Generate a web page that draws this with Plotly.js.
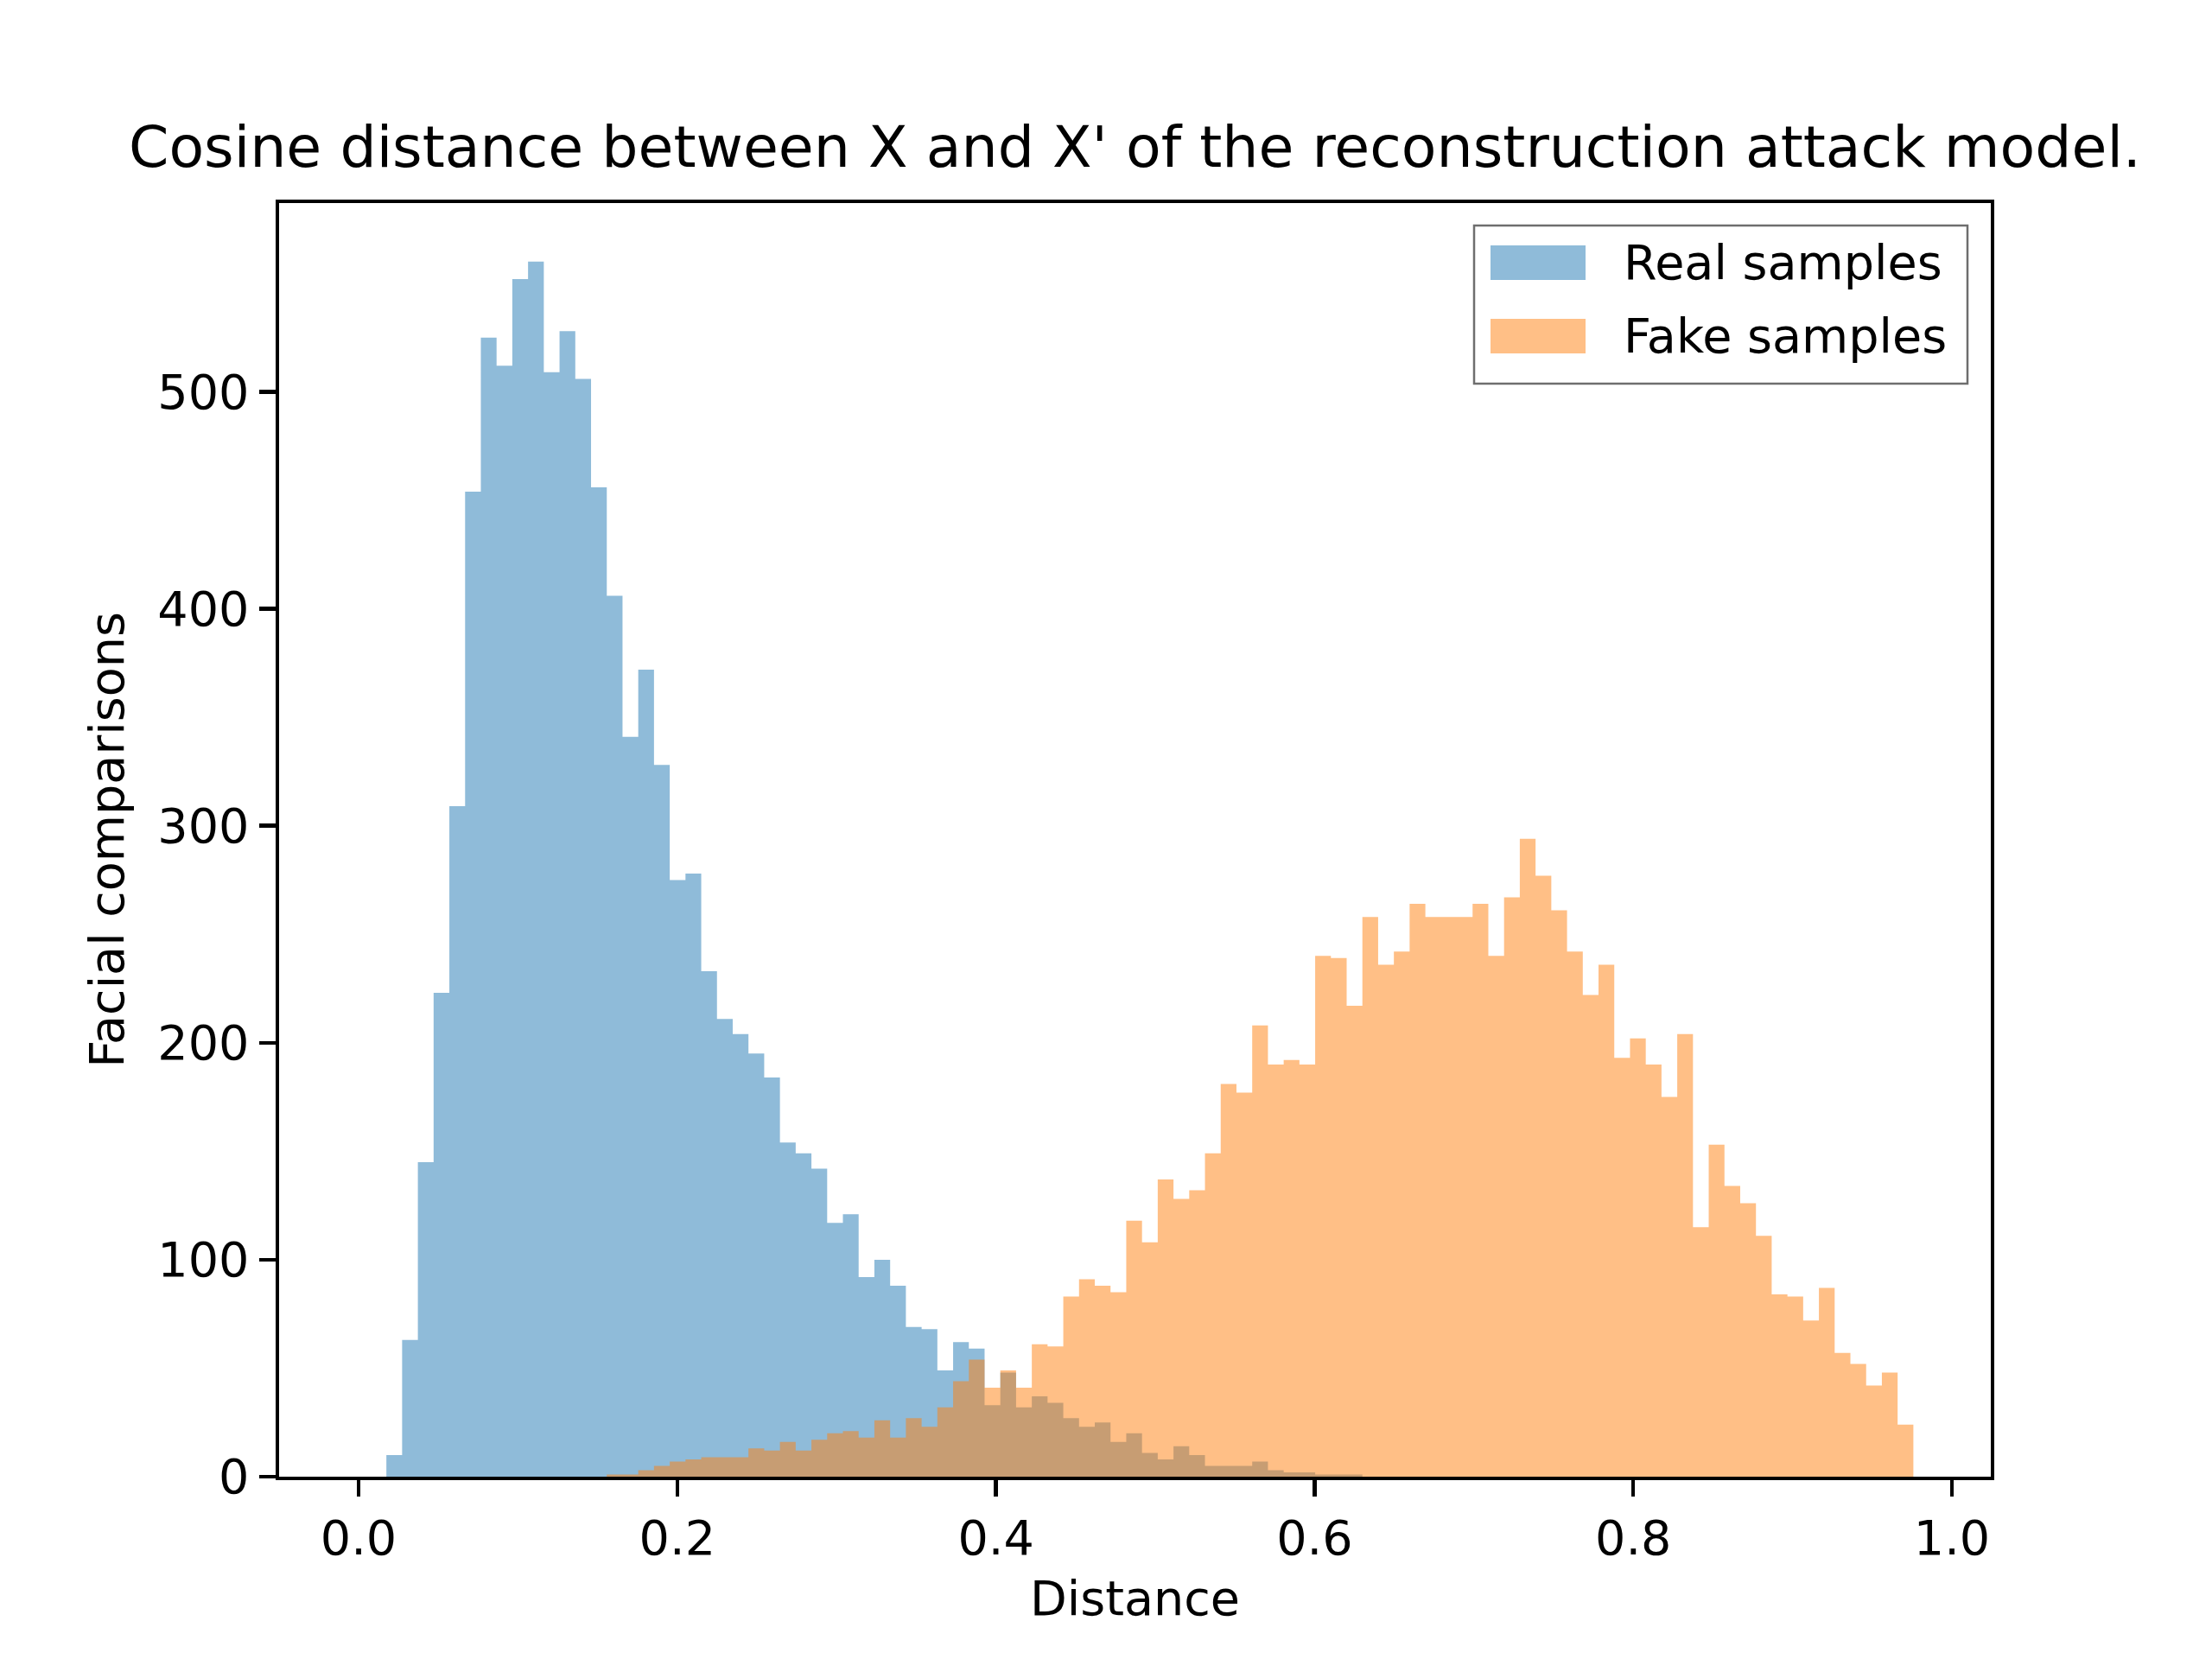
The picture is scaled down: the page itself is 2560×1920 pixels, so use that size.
<!DOCTYPE html>
<html>
<head>
    <title>Cosine distance histogram</title>
    <script src="https://cdn.plot.ly/plotly-3.0.1.min.js"></script>
    <style>
        html, body {
            margin: 0;
            padding: 0;
            background: white;
        }

        #plot {
            width: 2560px;
            height: 1920px;
        }
    </style>
</head>
<body>
    <div id="plot"></div>

    <script>
        // shared histogram grid (100 bins)
        const BIN_START = -0.0122;
        const BIN_WIDTH = 0.00988;

        const seriesNames = ['Real samples', 'Fake samples'];
        const seriesColors = ['rgba(31, 119, 180, 0.5)', 'rgba(255, 127, 14, 0.5)'];

        // counts per bin
        const realCounts = [
            0, 0, 0, 10, 63, 145, 223, 309, 454, 525,
            512, 552, 560, 509, 528, 506, 456, 406, 341, 372,
            328, 275, 278, 233, 211, 204, 195, 184, 154, 149,
            142, 117, 121, 92, 100, 88, 69, 68, 49, 62,
            59, 33, 48, 32, 37, 34, 27, 23, 25, 16,
            20, 11, 8, 14, 10, 5, 5, 5, 7, 3,
            2, 2, 1, 1, 1, 0, 0, 0, 0, 0,
            0, 0, 0, 0, 0, 0, 0, 0, 0, 0,
            0, 0, 0, 0, 0, 0, 0, 0, 0, 0,
            0, 0, 0, 0, 0, 0, 0, 0, 0, 0
        ];

        const fakeCounts = [
            0, 0, 0, 0, 0, 0, 0, 0, 0, 0,
            0, 0, 0, 0, 0, 0, 0, 1, 1, 3,
            5, 7, 8, 9, 9, 9, 13, 12, 16, 12,
            17, 20, 21, 18, 26, 18, 27, 23, 32, 44,
            54, 41, 49, 41, 61, 60, 83, 91, 88, 85,
            118, 108, 137, 128, 132, 149, 181, 177, 208, 190,
            192, 190, 240, 239, 217, 258, 236, 242, 264, 258,
            258, 258, 264, 240, 267, 294, 277, 261, 242, 222,
            236, 193, 202, 190, 175, 204, 115, 153, 134, 126,
            111, 84, 83, 72, 87, 57, 52, 42, 48, 24
        ];

        const xTicks = [0, 0.2, 0.4, 0.6, 0.8, 1.0];
        const xTickLabels = ['0.0', '0.2', '0.4', '0.6', '0.8', '1.0'];
        const yTicks = [0, 100, 200, 300, 400, 500];

        // bin edges, 101 of them; counts repeated at the end so the step closes
        const binEdges = Array.from({ length: realCounts.length + 1 }, (_, i) => BIN_START + i * BIN_WIDTH);

        const FONT = 'DejaVu Sans, Liberation Sans, sans-serif';
        const TICK_SIZE = 55.6;

        // stepfilled histograms
        const data = [realCounts, fakeCounts].map((counts, k) => ({
            type: 'scatter',
            mode: 'lines',
            x: binEdges,
            y: counts.concat([counts[counts.length - 1]]),
            line: { shape: 'hv', width: 0, color: seriesColors[k] },
            fill: 'tozeroy',
            fillcolor: seriesColors[k],
            name: seriesNames[k],
            showlegend: false,
            hoverinfo: 'skip'
        }));

        // plot area in pixels (matplotlib default subplot box)
        const M = { l: 323, r: 256, t: 235, b: 211 };
        const plotW = 2560 - M.l - M.r;
        const plotH = 1920 - M.t - M.b;
        const px = x => (x - M.l) / plotW;
        const py = y => (1920 - M.b - y) / plotH;

        // hand-drawn legend, matplotlib style
        const shapes = [{
            type: 'rect', xref: 'paper', yref: 'paper',
            x0: px(1706), x1: px(2277), y0: py(444), y1: py(261),
            line: { color: '#6e6e6e', width: 2.5 },
            fillcolor: 'rgba(255,255,255,0.8)',
            layer: 'above'
        }];
        const annotations = [];
        const rowCenters = [304, 389];
        seriesNames.forEach((name, k) => {
            shapes.push({
                type: 'rect', xref: 'paper', yref: 'paper',
                x0: px(1725), x1: px(1835),
                y0: py(rowCenters[k] + 20), y1: py(rowCenters[k] - 20),
                line: { width: 0 },
                fillcolor: seriesColors[k],
                layer: 'above'
            });
            annotations.push({
                xref: 'paper', yref: 'paper',
                x: px(1877), y: py(rowCenters[k]),
                xanchor: 'left', yanchor: 'middle',
                text: name, showarrow: false,
                font: { family: FONT, size: TICK_SIZE, color: '#000' }
            });
        });

        const axisCommon = {
            ticks: 'outside',
            ticklen: 19,
            tickwidth: 4.4,
            tickcolor: '#000',
            showline: true,
            mirror: true,
            linewidth: 4.4,
            linecolor: '#000',
            showgrid: false,
            zeroline: false,
            tickfont: { family: FONT, size: TICK_SIZE, color: '#000' }
        };

        const layout = {
            width: 2560,
            height: 1920,
            margin: M,
            paper_bgcolor: 'white',
            plot_bgcolor: 'white',
            font: { family: FONT, color: '#000' },
            title: {
                text: "Cosine distance between X and X' of the reconstruction attack model.",
                font: { family: FONT, size: 66.5, color: '#000' },
                x: 0.5,
                xref: 'paper',
                y: 1,
                yref: 'paper',
                yanchor: 'bottom',
                pad: { b: 42 }
            },
            xaxis: Object.assign({}, axisCommon, {
                range: [-0.0499, 1.0244],
                tickvals: xTicks,
                ticktext: xTickLabels,
                title: {
                    text: 'Distance',
                    font: { family: FONT, size: TICK_SIZE, color: '#000' },
                    standoff: 20
                }
            }),
            yaxis: Object.assign({}, axisCommon, {
                range: [0, 587],
                tickvals: yTicks,
                title: {
                    text: 'Facial comparisons',
                    font: { family: FONT, size: TICK_SIZE, color: '#000' },
                    standoff: 22
                }
            }),
            shapes: shapes,
            annotations: annotations
        };

        Plotly.newPlot('plot', data, layout, { displayModeBar: false, staticPlot: true });
    </script>
</body>
</html>
